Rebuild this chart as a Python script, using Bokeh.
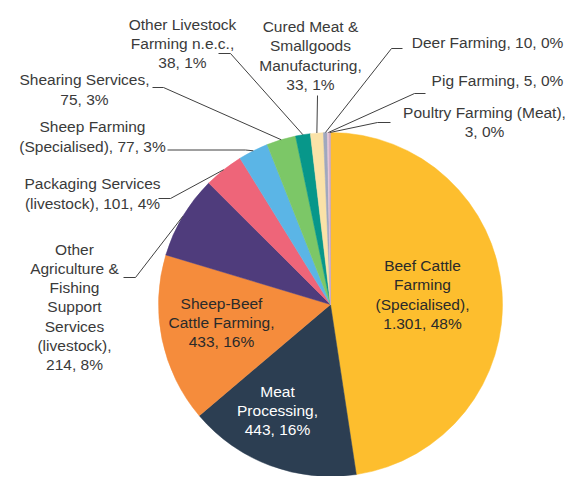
import math
from bokeh.plotting import figure
from bokeh.models import Range1d, ColumnDataSource
from bokeh.core.properties import value
from bokeh.embed import file_html
from bokeh.resources import INLINE

# ---------------- data ----------------
categories = [
    "Beef Cattle Farming (Specialised)",
    "Meat Processing",
    "Sheep-Beef Cattle Farming",
    "Other Agriculture & Fishing Support Services (livestock)",
    "Packaging Services (livestock)",
    "Sheep Farming (Specialised)",
    "Shearing Services",
    "Other Livestock Farming n.e.c.",
    "Cured Meat & Smallgoods Manufacturing",
    "Deer Farming",
    "Pig Farming",
    "Poultry Farming (Meat)",
]
values = [1301, 443, 433, 214, 101, 77, 75, 38, 33, 10, 5, 3]
label_texts = [
    "Beef Cattle\nFarming\n(Specialised),\n1.301, 48%",
    "Meat\nProcessing,\n443, 16%",
    "Sheep-Beef\nCattle Farming,\n433, 16%",
    "Other\nAgriculture &\nFishing\nSupport\nServices\n(livestock),\n214, 8%",
    "Packaging Services\n(livestock), 101, 4%",
    "Sheep Farming\n(Specialised), 77, 3%",
    "Shearing Services,\n75, 3%",
    "Other Livestock\nFarming n.e.c.,\n38, 1%",
    "Cured Meat &\nSmallgoods\nManufacturing,\n33, 1%",
    "Deer Farming, 10, 0%",
    "Pig Farming, 5, 0%",
    "Poultry Farming (Meat),\n3, 0%",
]

# ---------------- styles / layout ----------------
colors = ["#FDBE2E", "#2C3E52", "#F58C3C", "#4F3C7C", "#EE6579", "#5BB5E6",
          "#7CC767", "#07978A", "#FAE2A8", "#A0A8BE", "#E6C6D6", "#C9A3BC"]
text_colors = ["#2a2a2a", "#ffffff", "#2a2a2a"] + ["#3a3a3a"] * 9

W, H = 565, 476
CX, CY, R = 330, 304, 172          # pie centre / radius in picture pixels

def Y(py):
    return H - py

# label block centres (picture pixels)
label_pos = [(422, 294), (277, 410), (221, 322), (74, 306.5), (92, 193),
             (92, 136), (84, 89), (182, 43), (310, 55), (487, 42),
             (497, 80), (484, 121.5)]
# leader line start + elbow (picture pixels); None = label inside slice
leaders = [None, None, None,
           [(123, 277), (135, 277)],
           [(158, 198), (170, 198)],
           [(167, 149.5), (245, 149.5)],
           [(152, 87), (163, 87)],
           [(218, 53), (230, 53)],
           [(317, 95), (317, 95)],
           [(402, 48), (391, 48)],
           [(425, 93), (414, 93)],
           [(390, 122), (377, 122)]]

p = figure(width=W, height=H, output_backend="svg", toolbar_location=None,
           x_range=Range1d(0, W), y_range=Range1d(0, H), min_border=0)
p.axis.visible = False
p.grid.visible = False
p.outline_line_color = None
p.background_fill_color = "white"
p.border_fill_color = "white"

total = sum(values)
cum = 0
starts, ends, mids = [], [], []
for v in values:
    a0 = cum / total
    cum += v
    a1 = cum / total
    starts.append(math.pi / 2 - 2 * math.pi * a0)
    ends.append(math.pi / 2 - 2 * math.pi * a1)
    mids.append((a0 + a1) / 2)

src = ColumnDataSource(dict(start=starts, end=ends, color=colors))
p.wedge(x=CX, y=Y(CY), radius=R, start_angle="start", end_angle="end",
        direction="clock", fill_color="color", line_color="color",
        line_width=0.5, source=src)

# leader lines
xs, ys = [], []
for i, ld in enumerate(leaders):
    if ld is None:
        continue
    ang = 2 * math.pi * mids[i]
    px = CX + R * math.sin(ang)
    py = CY - R * math.cos(ang)
    pts = ld + [(px, py)]
    xs.append([q[0] for q in pts])
    ys.append([Y(q[1]) for q in pts])
p.multi_line(xs=xs, ys=ys, line_color="#404040", line_width=1)

tsrc = ColumnDataSource(dict(
    x=[q[0] for q in label_pos], y=[Y(q[1]) for q in label_pos],
    text=label_texts, color=text_colors))
p.text(x="x", y="y", text="text", source=tsrc, text_align="center",
       text_baseline="middle", text_font=value("Liberation Sans"),
       text_font_size="15.5px", text_color="color", text_line_height=1.12)

open("out.html", "w").write(file_html(p, INLINE))
